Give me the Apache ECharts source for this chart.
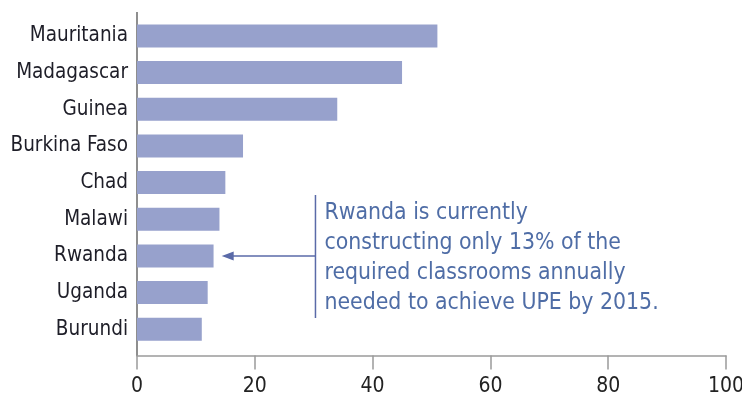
<!DOCTYPE html>
<html>
<head>
<meta charset="utf-8">
<script src="https://cdn.jsdelivr.net/npm/echarts@6/dist/echarts.min.js"></script>
<style>
  html, body { margin: 0; padding: 0; background: #fff; }
  #chart { width: 742px; height: 402px; }
</style>
</head>
<body>
<div id="chart"></div>
<script>
var countries = ["Mauritania", "Madagascar", "Guinea", "Burkina Faso", "Chad", "Malawi", "Rwanda", "Uganda", "Burundi"];
var shares = [51, 45, 34, 18, 15, 14, 13, 12, 11];
var xTicks = [0, 20, 40, 60, 80, 100];
var note = ["Rwanda is currently", "constructing only 13% of the", "required classrooms annually", "needed to achieve UPE by 2015."];

var font = "'Liberation Sans Narrow', 'DejaVu Sans Condensed', sans-serif";
var chart = echarts.init(document.getElementById("chart"));

var option = {
  animation: false,
  grid: { left: 137, right: 16, top: 17.6, height: 330, outerBoundsMode: "none", containLabel: false },
  xAxis: {
    type: "value",
    min: xTicks[0],
    max: xTicks[xTicks.length - 1],
    interval: 20,
    offset: 8,
    axisLine: { show: true, lineStyle: { color: "#9a9a9a", width: 1.5 } },
    axisTick: { show: true, length: 14, lineStyle: { color: "#9a9a9a", width: 1.5 } },
    axisLabel: { margin: 20, fontSize: 21, color: "#222", fontFamily: font },
    splitLine: { show: false }
  },
  yAxis: {
    type: "category",
    inverse: true,
    data: countries,
    axisLine: { show: false },
    axisTick: { show: false },
    axisLabel: { margin: 9, fontSize: 20.5, color: "#1e1e28", fontFamily: font }
  },
  series: [
    {
      type: "bar",
      data: shares,
      barWidth: 23,
      itemStyle: { color: "#97a1cc" },
      markLine: {
        silent: true,
        symbol: ["none", "triangle"],
        symbolSize: [9, 12],
        label: { show: false },
        lineStyle: { color: "#5a6aa8", width: 1.5, type: "solid" },
        data: [[{ coord: [30.3, "Rwanda"] }, { coord: [15.4, "Rwanda"] }]]
      }
    }
  ]
};
chart.setOption(option);

// y axis line runs past the bar bands, down to the offset x axis
var x0 = chart.convertToPixel({ xAxisIndex: 0 }, 0);
var xNote = chart.convertToPixel({ xAxisIndex: 0 }, 30.3);
chart.setOption({
  graphic: [
    { type: "line", shape: { x1: x0, y1: 12, x2: x0, y2: 356 }, style: { stroke: "#444", lineWidth: 1.2 } },
    { type: "line", shape: { x1: xNote, y1: 195, x2: xNote, y2: 318 }, style: { stroke: "#5a6aa8", lineWidth: 1.5 } },
    {
      type: "text", left: xNote + 9, top: 198,
      style: { text: note.join("\n"), font: "22.8px " + font, lineHeight: 30, fill: "#4f6da6" }
    }
  ]
});
</script>
</body>
</html>
